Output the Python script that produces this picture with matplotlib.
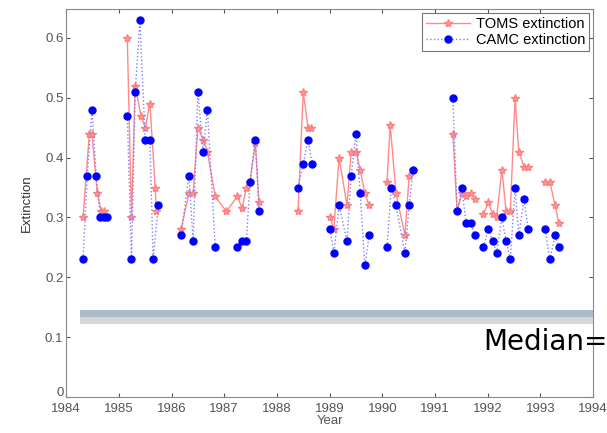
import numpy as np
import matplotlib
matplotlib.use("Agg")
from matplotlib import pyplot as plt
from matplotlib import transforms

# TOMS extinction (NaN breaks the line between observing seasons)
toms_year = [1984.32, 1984.44, 1984.49, 1984.59, 1984.67, 1984.72, np.nan,
             1985.16, 1985.24, 1985.31, 1985.42, 1985.50, 1985.59, 1985.69, 1985.71, np.nan,
             1986.18, 1986.33, 1986.41, 1986.50, 1986.60, 1986.68, 1986.83, 1987.04,
             1987.25, 1987.34, 1987.42, 1987.49, 1987.59, 1987.66, np.nan,
             1988.40, 1988.50, 1988.59, 1988.65, np.nan,
             1989.01, 1989.08, 1989.18, 1989.33, 1989.41, 1989.50, 1989.58, 1989.67, 1989.75, np.nan,
             1990.09, 1990.15, 1990.26, 1990.43, 1990.51, 1990.58, np.nan,
             1991.34, 1991.42, 1991.51, 1991.59, 1991.68, 1991.76, np.nan,
             1991.92, 1992.01, 1992.10, 1992.17, 1992.27, 1992.35, 1992.43, 1992.52,
             1992.59, 1992.69, 1992.77, np.nan,
             1993.09, 1993.18, 1993.28, 1993.35]
toms_ext = [0.30, 0.44, 0.44, 0.34, 0.31, 0.31, np.nan,
            0.60, 0.30, 0.52, 0.47, 0.45, 0.49, 0.35, 0.31, np.nan,
            0.28, 0.34, 0.34, 0.45, 0.43, 0.41, 0.335, 0.31,
            0.335, 0.315, 0.35, 0.36, 0.425, 0.325, np.nan,
            0.31, 0.51, 0.45, 0.45, np.nan,
            0.30, 0.28, 0.40, 0.32, 0.41, 0.41, 0.38, 0.34, 0.32, np.nan,
            0.36, 0.455, 0.34, 0.27, 0.37, 0.38, np.nan,
            0.44, 0.31, 0.34, 0.335, 0.34, 0.33, np.nan,
            0.305, 0.325, 0.305, 0.30, 0.38, 0.31, 0.31, 0.50,
            0.41, 0.385, 0.385, np.nan,
            0.36, 0.36, 0.32, 0.29]

# CAMC extinction
camc_year = [1984.32, 1984.40, 1984.49, 1984.57, 1984.65, 1984.72, 1984.78, np.nan,
             1985.16, 1985.24, 1985.31, 1985.40, 1985.50, 1985.59, 1985.65, 1985.75, np.nan,
             1986.18, 1986.33, 1986.41, 1986.50, 1986.60, 1986.68, 1986.83, np.nan,
             1987.25, 1987.34, 1987.42, 1987.49, 1987.59, 1987.66, np.nan,
             1988.40, 1988.50, 1988.59, 1988.67, np.nan,
             1989.01, 1989.08, 1989.18, 1989.33, 1989.41, 1989.50, 1989.58, 1989.67, 1989.75, np.nan,
             1990.09, 1990.17, 1990.26, 1990.43, 1990.51, 1990.58, np.nan,
             1991.34, 1991.42, 1991.51, 1991.59, 1991.68, 1991.76, np.nan,
             1991.92, 1992.01, 1992.10, 1992.17, 1992.27, 1992.35, 1992.43, 1992.52,
             1992.59, 1992.69, 1992.77, np.nan,
             1993.09, 1993.18, 1993.28, 1993.35]
camc_ext = [0.23, 0.37, 0.48, 0.37, 0.30, 0.30, 0.30, np.nan,
            0.47, 0.23, 0.51, 0.63, 0.43, 0.43, 0.23, 0.32, np.nan,
            0.27, 0.37, 0.26, 0.51, 0.41, 0.48, 0.25, np.nan,
            0.25, 0.26, 0.26, 0.36, 0.43, 0.31, np.nan,
            0.35, 0.39, 0.43, 0.39, np.nan,
            0.28, 0.24, 0.32, 0.26, 0.37, 0.44, 0.34, 0.22, 0.27, np.nan,
            0.25, 0.35, 0.32, 0.24, 0.32, 0.38, np.nan,
            0.50, 0.31, 0.35, 0.29, 0.29, 0.27, np.nan,
            0.25, 0.28, 0.26, 0.24, 0.30, 0.26, 0.23, 0.35,
            0.27, 0.33, 0.28, np.nan,
            0.28, 0.23, 0.27, 0.25]

year_ticks = list(range(1984, 1995))
ext_ticks = [0, 0.1, 0.2, 0.3, 0.4, 0.5, 0.6]

plt.rcParams['font.family'] = ['Liberation Sans', 'DejaVu Sans']

fig = plt.figure(figsize=(6.07, 4.33), dpi=100)
ax = fig.add_axes([0.109, 0.083, 0.868, 0.896])

ax.plot(toms_year, toms_ext, color='#ff8a8a', linestyle='-', linewidth=1.0,
        marker='*', markersize=6, markerfacecolor='#ff9a9a', markeredgecolor='#ff8080',
        label='TOMS extinction')
ax.plot(camc_year, camc_ext, color='#8080ff', linestyle=':', linewidth=1.0,
        marker='o', markersize=5, markerfacecolor='#0000ff', markeredgecolor='#0000ff',
        label='CAMC extinction')

# grey overlay band with a faint shadow
ax.axhspan(0.122, 0.133, xmin=0.027, xmax=1.0, color='#d6d6d6', lw=0, zorder=5)
ax.axhspan(0.133, 0.145, xmin=0.027, xmax=1.0, color='#a9bacb', lw=0, zorder=6)

ax.set_xlim(1984, 1994)
ax.set_ylim(0, 0.648)
ax.set_xticks(year_ticks)
ax.set_xticklabels([str(y) for y in year_ticks])
ax.set_yticks(ext_ticks)
ax.set_yticklabels(['0', '0.1', '0.2', '0.3', '0.4', '0.5', '0.6'])
ax.tick_params(direction='in', top=True, right=True, labelsize=9.5, colors='#555555',
               length=3, pad=2)
ax.tick_params(axis='x', pad=4)
for s in ax.spines.values():
    s.set_color('#888888')
ax.set_xlabel('Year', fontsize=9.5, color='#555555', labelpad=0)
ax.set_ylabel('Extinction', fontsize=9.5, color='#333333', labelpad=9)

# lift the "0" label a little so it clears the 1984 label
zero_lbl = ax.get_yticklabels()[0]
zero_lbl.set_transform(zero_lbl.get_transform() +
                       transforms.ScaledTranslation(0, 4 / 72, fig.dpi_scale_trans))

leg = ax.legend(loc='upper right', fontsize=10.5, frameon=True, fancybox=False,
                edgecolor='#555555', borderpad=0.25, labelspacing=0.15,
                handlelength=3.0, handletextpad=0.4, borderaxespad=0.3)
leg.get_frame().set_linewidth(0.8)

fig.text(0.796, 0.21, 'Median=', fontsize=20, family='DejaVu Sans',
         va='center', ha='left', color='black')

fig.savefig('out.png', dpi=100)
